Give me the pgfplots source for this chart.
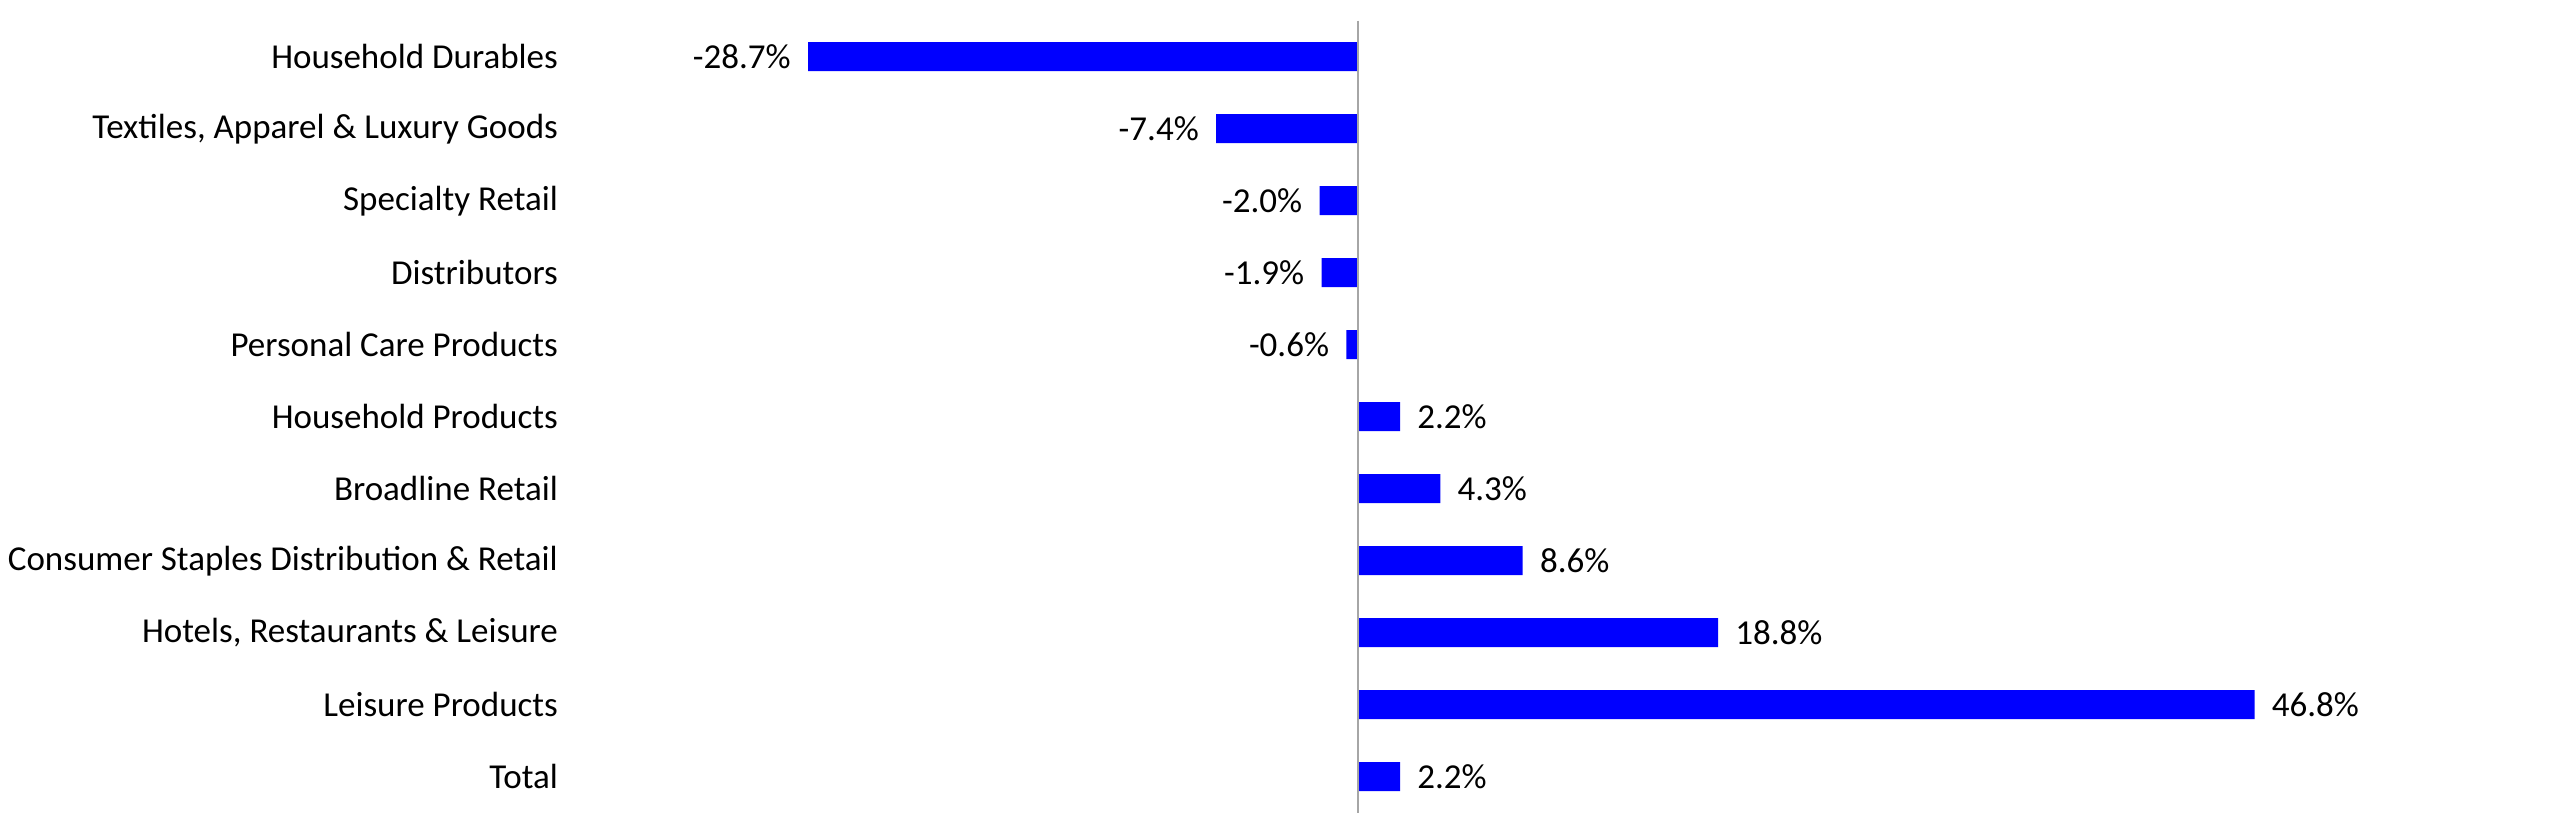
\documentclass[border=0pt]{standalone}
\usepackage{pgfplots}
\pgfplotsset{compat=1.18}
\usepackage{fontspec}
\setmainfont{Carlito}
\definecolor{barblue}{RGB}{0,0,255}
\begin{document}
\begin{tikzpicture}
\useasboundingbox (0,0) rectangle (768pt,244.8pt);
\begin{axis}[
  at={(206.2pt,0.99pt)}, anchor=south west,
  scale only axis, width=517.3pt, height=237.6pt,
  xbar, bar width=8.7pt,
  xmin=-35, xmax=55, ymin=-0.5, ymax=10.5, y dir=reverse,
  axis line style={draw=none},
  xtick=\empty,
  ytick={0,...,10},
  yticklabels={Household Durables,{Textiles, Apparel \& Luxury Goods},Specialty Retail,Distributors,Personal Care Products,Household Products,Broadline Retail,Consumer Staples Distribution \& Retail,{Hotels, Restaurants \& Leisure},Leisure Products,Total},
  major tick length=0pt,
  tick style={draw=none},
  yticklabel style={font=\fontsize{10.5pt}{12.6pt}\selectfont, xshift=-35.3pt},
  clip=false,
  nodes near coords={\pgfmathprintnumber[fixed,fixed zerofill,precision=1,assume math mode=true]{\pgfplotspointmeta}\%},
  nodes near coords align={horizontal},
  every node near coord/.append style={font=\fontsize{10.5pt}{12.6pt}\selectfont, inner sep=5pt, text=black},
]
\addplot[fill=barblue, draw=none] coordinates {
  (-28.7,0) (-7.4,1) (-2.0,2) (-1.9,3) (-0.6,4) (2.2,5) (4.3,6) (8.6,7) (18.8,8) (46.8,9) (2.2,10)
};
\draw[gray!70, line width=0.5pt] (axis cs:0,-0.5) -- (axis cs:0,10.5);
\end{axis}
\end{tikzpicture}
\end{document}
